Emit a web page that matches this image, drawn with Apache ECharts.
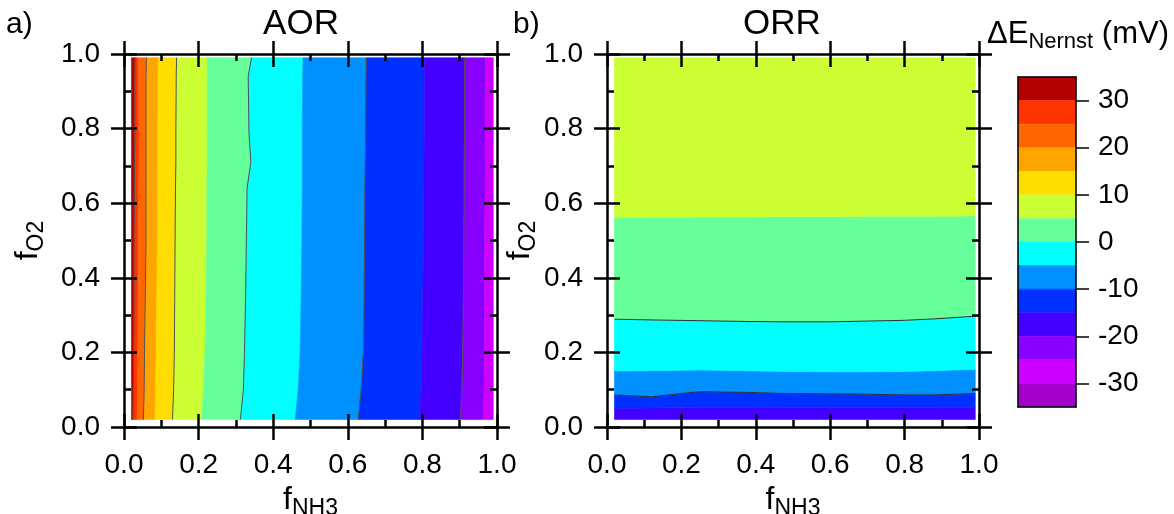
<!DOCTYPE html>
<html>
<head>
<meta charset="utf-8">
<script src="https://cdn.jsdelivr.net/npm/echarts@6/dist/echarts.min.js"></script>
<style>
  html, body { margin: 0; padding: 0; background: #fff; }
  #main { width: 1174px; height: 514px; }
</style>
</head>
<body>
<div id="main"></div>
<script>
// colour scale (mV), band i goes from levelEdges[i+1] up to levelEdges[i]
var levelEdges = [35, 30, 25, 20, 15, 10, 5, 0, -5, -10, -15, -20, -25, -30, -35];
var levelColors = ['#b40000', '#ff3300', '#ff6600', '#ffa500', '#ffdd00', '#ccff33', '#66ff99',
                   '#00ffff', '#0091ff', '#0030ff', '#4400ff', '#8800ff', '#cc00ff', '#a300cc'];
var cbarTicks = [30, 20, 10, 0, -10, -20, -30];

// a) AOR : contour boundaries are near vertical, x position read at each f_O2 level
var aorY = [0.02, 0.10, 0.20, 0.35, 0.50, 0.64, 0.71, 0.79, 0.94, 0.99];
var aorXmin = 0.02, aorXmax = 0.99;
var aorLevels = [30, 25, 20, 15, 10, 5, 0, -5, -10, -15, -20, -25];
var aorBounds = [
  [0.024, 0.025, 0.026, 0.027, 0.027, 0.028, 0.028, 0.029, 0.029, 0.030],
  [0.035, 0.036, 0.037, 0.038, 0.038, 0.039, 0.040, 0.040, 0.039, 0.038],
  [0.052, 0.054, 0.055, 0.057, 0.059, 0.059, 0.059, 0.059, 0.059, 0.060],
  [0.083, 0.085, 0.086, 0.088, 0.089, 0.089, 0.090, 0.090, 0.091, 0.092],
  [0.130, 0.133, 0.135, 0.136, 0.137, 0.138, 0.139, 0.139, 0.140, 0.141],
  [0.208, 0.213, 0.217, 0.220, 0.222, 0.222, 0.223, 0.223, 0.223, 0.223],
  [0.312, 0.320, 0.323, 0.326, 0.328, 0.330, 0.340, 0.335, 0.333, 0.342],
  [0.459, 0.467, 0.472, 0.475, 0.477, 0.478, 0.478, 0.478, 0.479, 0.480],
  [0.628, 0.636, 0.642, 0.644, 0.645, 0.646, 0.647, 0.648, 0.649, 0.650],
  [0.791, 0.797, 0.799, 0.801, 0.803, 0.804, 0.804, 0.805, 0.805, 0.806],
  [0.902, 0.906, 0.908, 0.910, 0.911, 0.912, 0.912, 0.913, 0.913, 0.913],
  [0.962, 0.965, 0.966, 0.967, 0.967, 0.968, 0.968, 0.968, 0.969, 0.969]
];

// b) ORR : contour boundaries are near horizontal, y position read at each f_NH3 level
var orrX = [0.02, 0.12, 0.25, 0.37, 0.47, 0.60, 0.70, 0.80, 0.88, 0.99];
var orrYmin = 0.02, orrYmax = 0.99;
var orrLevels = [-15, -10, -5, 0, 5];
var orrBounds = [
  [0.050, 0.051, 0.052, 0.053, 0.052, 0.052, 0.052, 0.052, 0.052, 0.053],
  [0.086, 0.081, 0.095, 0.093, 0.090, 0.089, 0.088, 0.086, 0.086, 0.090],
  [0.150, 0.151, 0.153, 0.151, 0.149, 0.148, 0.148, 0.149, 0.151, 0.155],
  [0.289, 0.287, 0.285, 0.283, 0.282, 0.282, 0.284, 0.286, 0.290, 0.297],
  [0.561, 0.562, 0.563, 0.563, 0.564, 0.564, 0.565, 0.565, 0.565, 0.566]
];

var font = 'Liberation Sans, Arial, sans-serif';

function colorFor(upper) {
  return levelColors[levelEdges.indexOf(upper)];
}

function aorBand(params, api) {
  var k = params.dataIndex, n = aorBounds.length, pts = [], j;
  for (j = 0; j < aorY.length; j++) {
    pts.push(api.coord([k === 0 ? aorXmin : aorBounds[k - 1][j], aorY[j]]));
  }
  for (j = aorY.length - 1; j >= 0; j--) {
    pts.push(api.coord([k === n ? aorXmax : aorBounds[k][j], aorY[j]]));
  }
  var c = colorFor(k === 0 ? aorLevels[0] + 5 : aorLevels[k - 1]);
  return {type: 'polygon', shape: {points: pts}, style: {fill: c, stroke: c, lineWidth: 0.6}};
}

function aorLine(params, api) {
  var k = params.dataIndex;
  if (aorLevels[k] % 10 !== 0) return null;
  var pts = aorY.map(function (y, j) { return api.coord([aorBounds[k][j], y]); });
  return {type: 'polyline', shape: {points: pts}, style: {fill: null, stroke: '#505050', lineWidth: 1}};
}

function orrBand(params, api) {
  var k = params.dataIndex, n = orrBounds.length, pts = [], j;
  for (j = 0; j < orrX.length; j++) {
    pts.push(api.coord([orrX[j], k === 0 ? orrYmin : orrBounds[k - 1][j]]));
  }
  for (j = orrX.length - 1; j >= 0; j--) {
    pts.push(api.coord([orrX[j], k === n ? orrYmax : orrBounds[k][j]]));
  }
  var c = colorFor(k === n ? orrLevels[n - 1] + 5 : orrLevels[k]);
  return {type: 'polygon', shape: {points: pts}, style: {fill: c, stroke: c, lineWidth: 0.6}};
}

function orrLine(params, api) {
  var k = params.dataIndex;
  if (orrLevels[k] % 10 !== 0) return null;
  var pts = orrX.map(function (x, j) { return api.coord([x, orrBounds[k][j]]); });
  return {type: 'polyline', shape: {points: pts}, style: {fill: null, stroke: '#303030', lineWidth: 1}};
}

function cbarBand(params, api) {
  var i = params.dataIndex;
  var p0 = api.coord([0, levelEdges[i]]);
  var p1 = api.coord([1, levelEdges[i + 1]]);
  return {type: 'rect', shape: {x: p0[0], y: p0[1], width: p1[0] - p0[0], height: p1[1] - p0[1]},
          style: {fill: levelColors[i], stroke: levelColors[i], lineWidth: 0.5}};
}

var subRich = {
  f: {fontSize: 32, fontFamily: font, color: '#000'},
  s: {fontSize: 23, fontFamily: font, color: '#000', padding: [17, 0, 0, 0]}
};

// one side of the box frame; outer copy only adds the outward half of the major ticks
function frameAxis(grid, pos, outer, labelled, name, gap) {
  var a = {
    type: 'value', gridIndex: grid, position: pos, min: 0, max: 1, interval: 0.2, z: 5,
    axisLine: {show: !outer, onZero: false, lineStyle: {color: '#000', width: 2.5}},
    axisTick: {show: true, inside: !outer, length: 13, lineStyle: {color: '#000', width: 2.5}},
    minorTick: {show: !outer, splitNumber: 2, length: 7, lineStyle: {color: '#000', width: 2.5}},
    axisLabel: {show: !!labelled, margin: 24, color: '#000', fontSize: 28, fontFamily: font,
                formatter: function (v) { return v.toFixed(1); }},
    splitLine: {show: false}
  };
  if (name) {
    a.name = name;
    a.nameLocation = 'middle';
    a.nameGap = gap;
    a.nameTextStyle = {rich: subRich};
  }
  return a;
}

var xAxes = [], yAxes = [];
[0, 1].forEach(function (g) {
  xAxes.push(frameAxis(g, 'bottom', false, true, '{f|f}{s|NH3}', 50));
  xAxes.push(frameAxis(g, 'bottom', true, false));
  xAxes.push(frameAxis(g, 'top', false, false));
  xAxes.push(frameAxis(g, 'top', true, false));
  yAxes.push(frameAxis(g, 'left', false, true, '{f|f}{s|O2}', g === 0 ? 76 : 64));
  yAxes.push(frameAxis(g, 'left', true, false));
  yAxes.push(frameAxis(g, 'right', false, false));
  yAxes.push(frameAxis(g, 'right', true, false));
});

// colour bar axes (index 8)
var cbLine = {show: true, onZero: false, lineStyle: {color: '#000', width: 1.5}};
xAxes.push({type: 'value', gridIndex: 2, min: 0, max: 1, position: 'bottom', z: 5,
            axisLine: cbLine, axisTick: {show: false}, axisLabel: {show: false}, splitLine: {show: false}});
xAxes.push({type: 'value', gridIndex: 2, min: 0, max: 1, position: 'top', z: 5,
            axisLine: cbLine, axisTick: {show: false}, axisLabel: {show: false}, splitLine: {show: false}});
yAxes.push({type: 'value', gridIndex: 2, min: -35, max: 35, position: 'right', z: 5,
            axisLine: cbLine,
            axisTick: {show: true, inside: false, length: 13, customValues: cbarTicks,
                       lineStyle: {color: '#000', width: 1.5}},
            axisLabel: {show: true, customValues: cbarTicks, margin: 22, color: '#000',
                        fontSize: 28, fontFamily: font},
            splitLine: {show: false}});
yAxes.push({type: 'value', gridIndex: 2, min: -35, max: 35, position: 'left', z: 5,
            axisLine: cbLine, axisTick: {show: false}, axisLabel: {show: false}, splitLine: {show: false}});

function idx(arr) { return arr.map(function (_, i) { return [i]; }); }

var chart = echarts.init(document.getElementById('main'));
var option = {
  animation: false,
  backgroundColor: '#fff',
  grid: [
    {left: 124, top: 54, width: 373, height: 373, containLabel: false, outerBoundsMode: 'none'},
    {left: 607, top: 54, width: 372, height: 373, containLabel: false, outerBoundsMode: 'none'},
    {left: 1018, top: 77, width: 58, height: 330, containLabel: false, outerBoundsMode: 'none'}
  ],
  xAxis: xAxes,
  yAxis: yAxes,
  graphic: [
    {type: 'text', left: 6, top: 10, style: {text: 'a)', fontSize: 30, fontFamily: font, fill: '#000'}},
    {type: 'text', left: 513, top: 10, style: {text: 'b)', fontSize: 30, fontFamily: font, fill: '#000'}},
    {type: 'text', x: 301, y: 24, style: {text: 'AOR', fontSize: 35, fontFamily: font, fill: '#000',
      textAlign: 'center', textVerticalAlign: 'middle'}},
    {type: 'text', x: 782, y: 24, style: {text: 'ORR', fontSize: 35, fontFamily: font, fill: '#000',
      textAlign: 'center', textVerticalAlign: 'middle'}},
    {type: 'text', x: 1078, y: 34, style: {
      text: '{f|ΔE}{s|Nernst}{f| (mV)}', textAlign: 'center', textVerticalAlign: 'middle',
      rich: {
        f: {fontSize: 31, fontFamily: font, fill: '#000'},
        s: {fontSize: 22, fontFamily: font, fill: '#000', padding: [16, 0, 0, 0]}
      }
    }}
  ],
  series: [
    {type: 'custom', xAxisIndex: 0, yAxisIndex: 0, z: 1, renderItem: aorBand,
     data: idx(aorLevels.concat([0]))},
    {type: 'custom', xAxisIndex: 0, yAxisIndex: 0, z: 2, renderItem: aorLine, data: idx(aorLevels)},
    {type: 'custom', xAxisIndex: 4, yAxisIndex: 4, z: 1, renderItem: orrBand,
     data: idx(orrLevels.concat([0]))},
    {type: 'custom', xAxisIndex: 4, yAxisIndex: 4, z: 2, renderItem: orrLine, data: idx(orrLevels)},
    {type: 'custom', xAxisIndex: 8, yAxisIndex: 8, z: 1, renderItem: cbarBand, data: idx(levelColors)}
  ]
};
chart.setOption(option);
window.addEventListener('resize', function () { chart.resize(); });
</script>
</body>
</html>
